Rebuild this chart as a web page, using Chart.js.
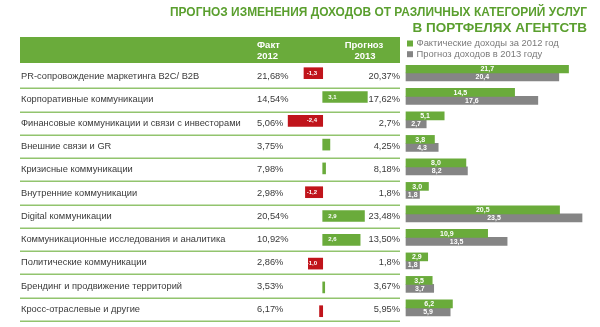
<!DOCTYPE html>
<html><head><meta charset="utf-8">
<script src="https://cdn.jsdelivr.net/npm/chart.js@4/dist/chart.umd.min.js"></script>
<style>html,body{margin:0;padding:0;background:#fff;overflow:hidden}canvas{display:block}</style>
</head><body>
<canvas id="c" width="600" height="327"></canvas>
<script>
const titleLines = ['ПРОГНОЗ ИЗМЕНЕНИЯ ДОХОДОВ ОТ РАЗЛИЧНЫХ КАТЕГОРИЙ УСЛУГ', 'В ПОРТФЕЛЯХ АГЕНТСТВ'];
const headerFact = ['Факт', '2012'];
const headerForecast = ['Прогноз', '2013'];
const categories = [
  'PR-сопровождение маркетинга B2C/ B2B',
  'Корпоративные коммуникации',
  'Финансовые коммуникации и связи с инвесторами',
  'Внешние связи и GR',
  'Кризисные коммуникации',
  'Внутренние коммуникации',
  'Digital коммуникации',
  'Коммуникационные исследования и аналитика',
  'Политические коммуникации',
  'Брендинг и продвижение территорий',
  'Кросс-отраслевые и другие'
];
const fact2012Text = ['21,68%','14,54%','5,06%','3,75%','7,98%','2,98%','20,54%','10,92%','2,86%','3,53%','6,17%'];
const forecast2013Text = ['20,37%','17,62%','2,7%','4,25%','8,18%','1,8%','23,48%','13,50%','1,8%','3,67%','5,95%'];
const change = [-1.3, 3.1, -2.4, 0.5, 0.2, -1.2, 2.9, 2.6, -1.0, 0.14, -0.22];
const changeLabels = ['-1,3','3,1','-2,4','','','-1,2','2,9','2,6','-1,0','',''];
const income2012 = [21.7, 14.5, 5.1, 3.8, 8.0, 3.0, 20.5, 10.9, 2.9, 3.5, 6.2];
const income2013 = [20.4, 17.6, 2.7, 4.3, 8.2, 1.8, 23.5, 13.5, 1.8, 3.7, 5.9];
const seriesNames = ['Фактические доходы за 2012 год', 'Прогноз доходов в 2013 году'];

const GREEN = '#6aab3b', RED = '#c0141b', GRAY = '#858585', LINE = '#92c46e',
      TITLE = '#5a9f2e', TEXT = '#3a3a3a', LEGEND_TEXT = '#7a7a7a';
const FONT = '"Liberation Sans", Arial, sans-serif';

const fmt = v => v.toFixed(1).replace('.', ',');

const tablePlugin = {
  id: 'tablePlugin',
  beforeDatasetsDraw(chart) {
    const ctx = chart.ctx, yt = chart.scales.yt;
    ctx.save();
    ctx.fillStyle = GREEN;
    ctx.fillRect(20, 37, 380, 26);
    const step = yt.getPixelForValue(1) - yt.getPixelForValue(0);
    ctx.strokeStyle = LINE; ctx.lineWidth = 1.5;
    for (let i = 0; i < categories.length; i++) {
      const y = Math.round(yt.getPixelForValue(i) + step / 2) + 0.25;
      ctx.beginPath(); ctx.moveTo(20, y); ctx.lineTo(400, y); ctx.stroke();
    }
    ctx.restore();
  },
  afterDatasetsDraw(chart) {
    const ctx = chart.ctx, yt = chart.scales.yt;
    ctx.save();
    // title
    ctx.fillStyle = TITLE; ctx.textAlign = 'right'; ctx.textBaseline = 'middle';
    ctx.font = 'bold 13.5px ' + FONT;
    ctx.fillText(titleLines[0], 587, 12.5, 417);
    ctx.fillText(titleLines[1], 587, 28, 187);
    // header
    ctx.fillStyle = '#ffffff'; ctx.font = 'bold 9.5px ' + FONT;
    ctx.textAlign = 'left';
    ctx.fillText(headerFact[0], 257, 45); ctx.fillText(headerFact[1], 257, 56);
    ctx.textAlign = 'center';
    ctx.fillText(headerForecast[0], 364, 45); ctx.fillText(headerForecast[1], 365, 56);
    // legend
    ctx.font = '9.4px ' + FONT; ctx.textAlign = 'left';
    [GREEN, GRAY].forEach((c, k) => {
      const y = 43.5 + k * 10.7;
      ctx.fillStyle = c; ctx.fillRect(407, y - 3, 6, 6);
      ctx.fillStyle = LEGEND_TEXT; ctx.fillText(seriesNames[k], 416.5, y);
    });
    // table text
    ctx.fillStyle = TEXT; ctx.font = '9.3px ' + FONT;
    categories.forEach((c, i) => {
      const y = yt.getPixelForValue(i);
      ctx.textAlign = 'left';
      ctx.fillText(c, 21, y);
      ctx.fillText(fact2012Text[i], 257, y);
      ctx.textAlign = 'right';
      ctx.fillText(forecast2013Text[i], 400, y);
    });
    // change labels
    ctx.fillStyle = '#ffffff'; ctx.font = 'bold 6px ' + FONT; ctx.textAlign = 'left';
    chart.getDatasetMeta(0).data.forEach((el, i) => {
      if (!changeLabels[i]) return;
      const x = change[i] >= 0 ? el.base + 5.5 : el.base - 16;
      ctx.fillText(changeLabels[i], x, el.y);
    });
    // right bar labels
    ctx.font = 'bold 7px ' + FONT; ctx.textAlign = 'center';
    [1, 2].forEach(d => {
      const vals = d === 1 ? income2012 : income2013;
      chart.getDatasetMeta(d).data.forEach((el, i) => {
        const l = Math.min(el.base, el.x), r = Math.max(el.base, el.x);
        ctx.save();
        ctx.beginPath(); ctx.rect(l, el.y - el.height / 2, r - l, el.height); ctx.clip();
        ctx.fillText(fmt(vals[i]), (l + r) / 2, el.y + 0.5);
        ctx.restore();
      });
    });
    ctx.restore();
  }
};

new Chart(document.getElementById('c').getContext('2d'), {
  type: 'bar',
  data: {
    labels: categories,
    datasets: [
      { label: 'change', data: change.map((v, i) => ({ x: v, y: i })), xAxisID: 'xc', yAxisID: 'yc',
        backgroundColor: change.map(v => v >= 0 ? GREEN : RED), barThickness: 11 },
      { label: seriesNames[0], data: income2012.map((v, i) => ({ x: v, y: i })), xAxisID: 'xr', yAxisID: 'yr',
        backgroundColor: GREEN, barThickness: 8 },
      { label: seriesNames[1], data: income2013.map((v, i) => ({ x: v, y: i })), xAxisID: 'xr', yAxisID: 'yr',
        backgroundColor: GRAY, barThickness: 8 }
    ]
  },
  options: {
    indexAxis: 'y', responsive: false, animation: false, devicePixelRatio: 1,
    layout: { padding: { top: 65, bottom: 6, left: 0, right: 0 } },
    plugins: { legend: { display: false }, tooltip: { enabled: false } },
    scales: {
      xc: { type: 'linear', axis: 'x', display: false, bounds: 'data', min: -22.41, max: 19.257, offset: false },
      xr: { type: 'linear', axis: 'x', display: false, bounds: 'data', min: -54.2, max: 25.9, offset: false },
      yc: { type: 'linear', axis: 'y', display: false, bounds: 'data', reverse: true, min: -0.5756, max: 10.1804, offset: false },
      yr: { type: 'linear', axis: 'y', display: false, bounds: 'data', reverse: true, min: -0.336, max: 10.558, offset: false },
      yt: { type: 'category', axis: 'y', display: false, offset: true, labels: categories }
    }
  },
  plugins: [tablePlugin]
});
</script>
</body></html>
